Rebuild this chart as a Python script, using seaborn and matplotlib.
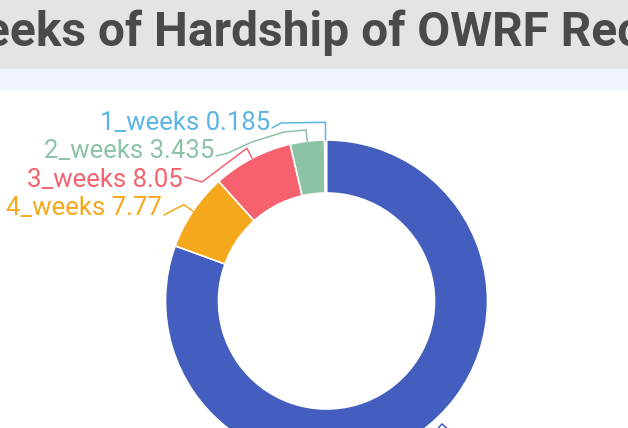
import matplotlib
matplotlib.use('Agg')
import matplotlib.pyplot as plt
import numpy as np
import seaborn as sns
from matplotlib.patches import Rectangle

# Data (clockwise from 12 o'clock, as in the original chart)
weeks = ['0_weeks', '4_weeks', '3_weeks', '2_weeks', '1_weeks']
share = [80.56, 7.77, 8.05, 3.435, 0.185]
palette = ['#435EBE', '#F5A81C', '#F5626E', '#8CC2A5', '#5CB4E4']
title = 'Weeks of Hardship of OWRF Recipients'

sns.set_theme(style='white')
plt.rcParams['font.family'] = ['Roboto', 'DejaVu Sans']
colors = sns.color_palette(palette)

W, H = 628, 428
CX, CY, R = 326.5, 301, 161  # donut centre / radius in pixels


def px(x, y):
    # pixel position -> data units of the pie axes
    return (x - CX) / R, (CY - y) / R


fig = plt.figure(figsize=(W / 100, H / 100), dpi=100)
fig.patch.set_facecolor('white')

# header bands
fig.add_artist(Rectangle((0, 1 - 69 / H), 1, 69 / H, transform=fig.transFigure,
                         color='#E4E4E4', zorder=0))
fig.add_artist(Rectangle((0, 1 - 89 / H), 1, 20 / H, transform=fig.transFigure,
                         color='#F0F5FD', zorder=0))

ax = fig.add_axes([0, 0, 1, 1])
wedges, _ = ax.pie(share, colors=colors, startangle=90, counterclock=False, radius=1,
                   wedgeprops=dict(width=53 / R, edgecolor='white', linewidth=1.2))
ax.patch.set_visible(False)
ax.set_xlim(-CX / R, (W - CX) / R)
ax.set_ylim(-(H - CY) / R, CY / R)
ax.set_aspect('equal')

# label layout: elbow radius, leader bends (px), text anchor (px) or None if off-canvas
layout = {
    '1_weeks': (1.11, [(281, 123), (272, 128)], (270, 130)),
    '2_weeks': (1.07, [(284, 132), (252, 142), (228, 153), (216, 156)], (214, 157.5)),
    '3_weeks': (1.07, [(202, 182), (185, 177)], (183, 186.5)),
    '4_weeks': (1.07, [(164, 215)], (162, 215)),
    '0_weeks': (1.07, [(442, 424), (450, 431), (462, 431)], None),
}

for w, name, val, c in zip(wedges, weeks, share, colors):
    r_elbow, bends, anchor = layout[name]
    theta = np.deg2rad((w.theta1 + w.theta2) / 2)
    xs = [np.cos(theta), r_elbow * np.cos(theta)] + [px(*b)[0] for b in bends]
    ys = [np.sin(theta), r_elbow * np.sin(theta)] + [px(*b)[1] for b in bends]
    ax.plot(xs, ys, color=c, lw=1.1, solid_joinstyle='miter')
    if anchor is not None:
        lx, ly = px(*anchor)
        ax.text(lx, ly, f'{name} {val}', color=c, fontsize=18.5, ha='right', va='baseline')

# title, cropped at the left edge as in the reference
fs_title = 34.5
renderer = fig.canvas.get_renderer()
probe = fig.text(0, 0, 'Weeks of H', fontsize=fs_title, weight='bold')
w_pre = probe.get_window_extent(renderer).width
probe.set_text('H')
w_pre -= probe.get_window_extent(renderer).width
probe.remove()
fig.text((154 - w_pre) / W, (H - 46) / H, title, fontsize=fs_title, weight='bold',
         color='#4A4A4A', ha='left', va='baseline')

fig.savefig('out.png', dpi=100)
